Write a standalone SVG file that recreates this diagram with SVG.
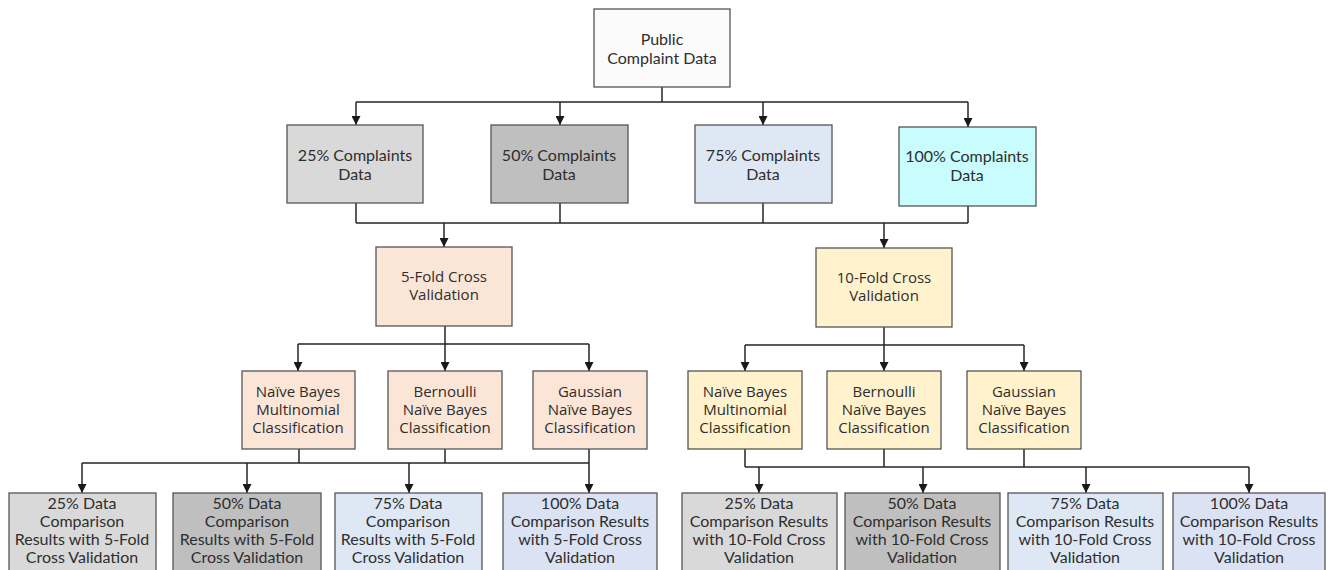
<svg xmlns="http://www.w3.org/2000/svg" width="1329" height="570" viewBox="0 0 1329 570">
<defs>
<marker id="arr" viewBox="0 0 10 10" refX="10" refY="5" markerWidth="9" markerHeight="9" markerUnits="userSpaceOnUse" orient="auto">
<path d="M0,0 L10,5 L0,10 Z" fill="#1a1a1a"/>
</marker>
<style>
.box{stroke:#555;stroke-width:1.3}
.t{font-family:Lato,"Liberation Sans",sans-serif;font-size:16px;fill:#2e2e2e;text-anchor:middle}
.s{font-family:"Open Sans","Liberation Sans",sans-serif;font-size:15px;fill:#2e2e2e;text-anchor:middle}
.c{fill:none;stroke:#262626;stroke-width:1.5}
.a{marker-end:url(#arr)}
.g25{fill:#d9d9d9}.g50{fill:#bfbfbf}.g75{fill:#dee8f4}.g100{fill:#c9fcfc}.b100{fill:#dae2f3}
.pe{fill:#fbe5d6}.ye{fill:#fff2cc}.wh{fill:#fbfbfc}
</style>
</defs>
<rect width="1329" height="570" fill="#fff"/>
<g id="connectors">
<path class="c" d="M662,87 V102 M356,102 H968"/>
<path class="c a" d="M356,102 V125"/>
<path class="c a" d="M560,102 V125"/>
<path class="c a" d="M763,102 V125"/>
<path class="c a" d="M968,102 V127"/>
<path class="c" d="M356,203 V223 M560,203 V223 M763,203 V223 M968,206 V223 M356,223 H968"/>
<path class="c a" d="M444,223 V247"/>
<path class="c a" d="M884,223 V248"/>
<path class="c" d="M445,326 V344 M298,344 H589"/>
<path class="c a" d="M298,344 V371"/>
<path class="c a" d="M445,344 V371"/>
<path class="c a" d="M589,344 V371"/>
<path class="c" d="M884,327 V345 M745,345 H1024"/>
<path class="c a" d="M745,345 V371"/>
<path class="c a" d="M884,345 V371"/>
<path class="c a" d="M1024,345 V371"/>
<path class="c" d="M299,449 V463 M445,449 V463 M82,463 H589"/>
<path class="c a" d="M82,463 V493"/>
<path class="c a" d="M247,463 V493"/>
<path class="c a" d="M409,463 V493"/>
<path class="c a" d="M589,449 V493"/>
<path class="c" d="M745,449 V467 M884,449 V467 M1024,449 V467 M745,467 H1249"/>
<path class="c a" d="M759,467 V493"/>
<path class="c a" d="M923,467 V493"/>
<path class="c a" d="M1086,467 V493"/>
<path class="c a" d="M1249,467 V493"/>
</g>
<g id="public"><rect class="box wh" x="594" y="9" width="136" height="78"/><text class="t" x="662" y="45">Public</text><text class="t" x="662" y="64">Complaint Data</text></g>
<g id="c25"><rect class="box g25" x="287" y="125" width="136" height="78"/><text class="t" x="355" y="161">25% Complaints</text><text class="t" x="355" y="180">Data</text></g>
<g id="c50"><rect class="box g50" x="491" y="125" width="137" height="78"/><text class="t" x="559" y="161">50% Complaints</text><text class="t" x="559" y="180">Data</text></g>
<g id="c75"><rect class="box g75" x="695" y="125" width="137" height="78"/><text class="t" x="763" y="161">75% Complaints</text><text class="t" x="763" y="180">Data</text></g>
<g id="c100"><rect class="box g100" x="899" y="127" width="137" height="79"/><text class="t" x="967" y="162">100% Complaints</text><text class="t" x="967" y="181">Data</text></g>
<g id="fold5"><rect class="box pe" x="376" y="247" width="136" height="79"/><text class="s" x="444" y="282">5-Fold Cross</text><text class="s" x="444" y="300">Validation</text></g>
<g id="fold10"><rect class="box ye" x="816" y="248" width="136" height="79"/><text class="s" x="884" y="283">10-Fold Cross</text><text class="s" x="884" y="301">Validation</text></g>
<g id="nb5"><rect class="box pe" x="242" y="371" width="113" height="78"/><text class="s" x="298" y="397">Naïve Bayes</text><text class="s" x="298" y="415">Multinomial</text><text class="s" x="298" y="433">Classification</text></g>
<g id="bnb5"><rect class="box pe" x="388" y="371" width="114" height="78"/><text class="s" x="445" y="397">Bernoulli</text><text class="s" x="445" y="415">Naïve Bayes</text><text class="s" x="445" y="433">Classification</text></g>
<g id="gnb5"><rect class="box pe" x="533" y="371" width="114" height="78"/><text class="s" x="590" y="397">Gaussian</text><text class="s" x="590" y="415">Naïve Bayes</text><text class="s" x="590" y="433">Classification</text></g>
<g id="nb10"><rect class="box ye" x="688" y="371" width="114" height="78"/><text class="s" x="745" y="397">Naïve Bayes</text><text class="s" x="745" y="415">Multinomial</text><text class="s" x="745" y="433">Classification</text></g>
<g id="bnb10"><rect class="box ye" x="827" y="371" width="114" height="78"/><text class="s" x="884" y="397">Bernoulli</text><text class="s" x="884" y="415">Naïve Bayes</text><text class="s" x="884" y="433">Classification</text></g>
<g id="gnb10"><rect class="box ye" x="967" y="371" width="114" height="78"/><text class="s" x="1024" y="397">Gaussian</text><text class="s" x="1024" y="415">Naïve Bayes</text><text class="s" x="1024" y="433">Classification</text></g>
<g id="r25f5"><rect class="box g25" x="9" y="493" width="147" height="85"/><text class="t" x="82" y="509">25% Data</text><text class="t" x="82" y="527">Comparison</text><text class="t" x="82" y="545">Results with 5-Fold</text><text class="t" x="82" y="563">Cross Validation</text></g>
<g id="r50f5"><rect class="box g50" x="173" y="493" width="148" height="85"/><text class="t" x="247" y="509">50% Data</text><text class="t" x="247" y="527">Comparison</text><text class="t" x="247" y="545">Results with 5-Fold</text><text class="t" x="247" y="563">Cross Validation</text></g>
<g id="r75f5"><rect class="box g75" x="335" y="493" width="147" height="85"/><text class="t" x="408" y="509">75% Data</text><text class="t" x="408" y="527">Comparison</text><text class="t" x="408" y="545">Results with 5-Fold</text><text class="t" x="408" y="563">Cross Validation</text></g>
<g id="r100f5"><rect class="box b100" x="503" y="493" width="154" height="85"/><text class="t" x="580" y="509">100% Data</text><text class="t" x="580" y="527">Comparison Results</text><text class="t" x="580" y="545">with 5-Fold Cross</text><text class="t" x="580" y="563">Validation</text></g>
<g id="r25f10"><rect class="box g25" x="682" y="493" width="155" height="85"/><text class="t" x="759" y="509">25% Data</text><text class="t" x="759" y="527">Comparison Results</text><text class="t" x="759" y="545">with 10-Fold Cross</text><text class="t" x="759" y="563">Validation</text></g>
<g id="r50f10"><rect class="box g50" x="845" y="493" width="155" height="85"/><text class="t" x="922" y="509">50% Data</text><text class="t" x="922" y="527">Comparison Results</text><text class="t" x="922" y="545">with 10-Fold Cross</text><text class="t" x="922" y="563">Validation</text></g>
<g id="r75f10"><rect class="box g75" x="1008" y="493" width="155" height="85"/><text class="t" x="1085" y="509">75% Data</text><text class="t" x="1085" y="527">Comparison Results</text><text class="t" x="1085" y="545">with 10-Fold Cross</text><text class="t" x="1085" y="563">Validation</text></g>
<g id="r100f10"><rect class="box b100" x="1173" y="493" width="152" height="85"/><text class="t" x="1249" y="509">100% Data</text><text class="t" x="1249" y="527">Comparison Results</text><text class="t" x="1249" y="545">with 10-Fold Cross</text><text class="t" x="1249" y="563">Validation</text></g>
</svg>
